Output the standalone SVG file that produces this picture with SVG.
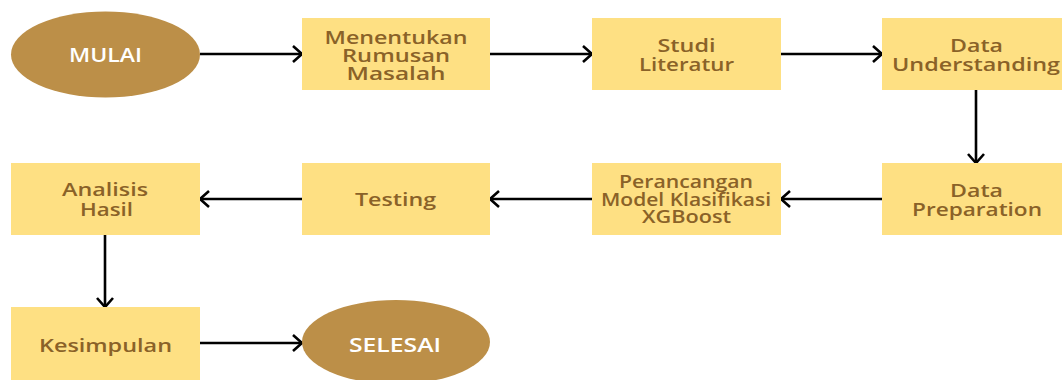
<svg xmlns="http://www.w3.org/2000/svg" width="1062" height="380" viewBox="0 0 1062 380">
<style>
.box{fill:#FEE083}
.oval{fill:#BC8F48}
.t{font-family:"Open Sans","DejaVu Sans",sans-serif;font-weight:600;font-size:18px;fill:#8A6228;text-anchor:middle}
.w{font-family:"Open Sans","DejaVu Sans",sans-serif;font-weight:600;font-size:20px;fill:#FFFFFF;text-anchor:middle}
.c{stroke:#000;stroke-width:2.6;fill:none;marker-end:url(#ah)}
</style>
<defs>
<marker id="ah" markerUnits="userSpaceOnUse" markerWidth="16" markerHeight="20" refX="12" refY="10" orient="auto" viewBox="0 0 16 20">
<path d="M3,2 L12,10 L3,18" fill="none" stroke="#000" stroke-width="2.6"/>
</marker>
</defs>
<rect width="1062" height="380" fill="#fff"/>
<g id="connectors">
<line class="c" x1="200" y1="54" x2="302" y2="54"/>
<line class="c" x1="490" y1="54" x2="592" y2="54"/>
<line class="c" x1="781" y1="54" x2="882" y2="54"/>
<line class="c" x1="976" y1="90" x2="976" y2="163"/>
<line class="c" x1="882" y1="199" x2="781" y2="199"/>
<line class="c" x1="592" y1="199" x2="490" y2="199"/>
<line class="c" x1="302" y1="199" x2="200" y2="199"/>
<line class="c" x1="105" y1="235" x2="105" y2="307"/>
<line class="c" x1="200" y1="343" x2="302" y2="343"/>
</g>
<g id="mulai"><ellipse class="oval" cx="105.5" cy="54.5" rx="94.5" ry="43"/><text class="w" x="105.5" y="62" textLength="73" lengthAdjust="spacingAndGlyphs">MULAI</text></g>
<g id="menentukan"><rect class="box" x="302" y="18" width="188" height="72"/>
<text class="t" x="396" y="44" textLength="143" lengthAdjust="spacingAndGlyphs">Menentukan</text>
<text class="t" x="396" y="62" textLength="108" lengthAdjust="spacingAndGlyphs">Rumusan</text>
<text class="t" x="396" y="80" textLength="99" lengthAdjust="spacingAndGlyphs">Masalah</text></g>
<g id="studi"><rect class="box" x="592" y="18" width="189" height="72"/>
<text class="t" x="686.5" y="52" textLength="58" lengthAdjust="spacingAndGlyphs">Studi</text>
<text class="t" x="686.5" y="71" textLength="95" lengthAdjust="spacingAndGlyphs">Literatur</text></g>
<g id="data-understanding"><rect class="box" x="882" y="18" width="180" height="72"/>
<text class="t" x="976.5" y="52" textLength="53" lengthAdjust="spacingAndGlyphs">Data</text>
<text class="t" x="976" y="71" textLength="168" lengthAdjust="spacingAndGlyphs">Understanding</text></g>
<g id="data-preparation"><rect class="box" x="882" y="163" width="180" height="72"/>
<text class="t" x="976.5" y="197" textLength="53" lengthAdjust="spacingAndGlyphs">Data</text>
<text class="t" x="977" y="216" textLength="130" lengthAdjust="spacingAndGlyphs">Preparation</text></g>
<g id="perancangan"><rect class="box" x="592" y="163" width="189" height="72"/>
<text class="t" x="686" y="188" textLength="134" lengthAdjust="spacingAndGlyphs">Perancangan</text>
<text class="t" x="686" y="206" textLength="170" lengthAdjust="spacingAndGlyphs">Model Klasifikasi</text>
<text class="t" x="686.5" y="223" textLength="89" lengthAdjust="spacingAndGlyphs">XGBoost</text></g>
<g id="testing"><rect class="box" x="302" y="163" width="188" height="72"/>
<text class="t" x="395.5" y="206" textLength="81" lengthAdjust="spacingAndGlyphs">Testing</text></g>
<g id="analisis"><rect class="box" x="11" y="163" width="189" height="72"/>
<text class="t" x="105" y="196" textLength="86" lengthAdjust="spacingAndGlyphs">Analisis</text>
<text class="t" x="106.5" y="216" textLength="53" lengthAdjust="spacingAndGlyphs">Hasil</text></g>
<g id="kesimpulan"><rect class="box" x="11" y="307" width="189" height="73"/>
<text class="t" x="105.5" y="352" textLength="133" lengthAdjust="spacingAndGlyphs">Kesimpulan</text></g>
<g id="selesai"><ellipse class="oval" cx="396" cy="342" rx="94" ry="42"/><text class="w" x="395" y="352" textLength="92" lengthAdjust="spacingAndGlyphs">SELESAI</text></g>
</svg>
